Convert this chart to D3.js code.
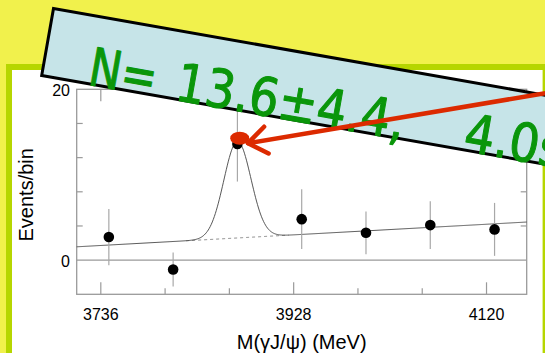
<!DOCTYPE html>
<html>
<head>
<meta charset="utf-8">
<script src="https://cdn.jsdelivr.net/npm/d3@7"></script>
<style>
  html, body { margin: 0; padding: 0; background: #f1f14c; }
  svg { display: block; }
</style>
</head>
<body>
<svg id="chart" width="545" height="353"></svg>
<script>
// Binned M(γJ/ψ) spectrum
const binCenters = [3744, 3808, 3872, 3936, 4000, 4064, 4128];
const events     = [2.7, -1.1, 13.6, 4.8, 3.2, 4.1, 3.6];
const errors     = [3.3, 2.0, 4.4, 3.5, 2.5, 2.8, 3.1];

// Axis ticks
const massRange   = [3712, 4160];
const xTicks      = [3736, 3800, 3864, 3928, 3992, 4056, 4120];
const xTickLabels = [3736, 3928, 4120];
const yRange      = [-4, 20];
const yTicks      = [4, 8, 12, 16];
const yTickLabels = [0, 20];

// Fit: linear background (values at the range ends) + Gaussian peak
const bgEnds    = [1.56, 4.46];
const peakMean  = 3872;
const peakSigma = 13.5;
const peakAmp   = 11.3;

// Annotation
const bannerText = ["N=", "13.6±4.4,", "4.0s"];

const svg = d3.select("#chart");
const W = 545, H = 353;

// page background + framed white panel
svg.append("rect").attr("width", W).attr("height", H).attr("fill", "#f1f14c");
svg.append("rect").attr("x", 9).attr("y", 67).attr("width", 536.6).attr("height", 320)
  .attr("fill", "#ffffff").attr("stroke", "#b6d600").attr("stroke-width", 6);

const plot = { left: 76.7, right: 526.7, top: 89.3, bottom: 294.3 };
const x = d3.scaleLinear().domain(massRange).range([plot.left, plot.right]);
const y = d3.scaleLinear().domain(yRange).range([plot.bottom, plot.top]);

const axisColor = "#9a9a9a";
const g = svg.append("g");

// frame
g.append("rect").attr("x", plot.left).attr("y", plot.top)
  .attr("width", plot.right - plot.left).attr("height", plot.bottom - plot.top)
  .attr("fill", "none").attr("stroke", axisColor).attr("stroke-width", 1.3);

// zero line
g.append("line").attr("x1", plot.left).attr("x2", plot.right)
  .attr("y1", y(0)).attr("y2", y(0)).attr("stroke", axisColor).attr("stroke-width", 1.2);

// x ticks (bottom and top, inward)
const isMajor = v => xTickLabels.includes(v);
xTicks.forEach(v => {
  const len = isMajor(v) ? 12 : 6;
  g.append("line").attr("x1", x(v)).attr("x2", x(v))
    .attr("y1", plot.bottom).attr("y2", plot.bottom - len)
    .attr("stroke", axisColor).attr("stroke-width", 1.2);
  g.append("line").attr("x1", x(v)).attr("x2", x(v))
    .attr("y1", plot.top).attr("y2", plot.top + len)
    .attr("stroke", axisColor).attr("stroke-width", 1.2);
});
// y ticks (left and right, inward)
yTicks.forEach(v => {
  g.append("line").attr("x1", plot.left).attr("x2", plot.left + 6)
    .attr("y1", y(v)).attr("y2", y(v)).attr("stroke", axisColor).attr("stroke-width", 1.2);
  g.append("line").attr("x1", plot.right).attr("x2", plot.right - 6)
    .attr("y1", y(v)).attr("y2", y(v)).attr("stroke", axisColor).attr("stroke-width", 1.2);
});

const labelFont = "'Liberation Sans', Arial, Helvetica, sans-serif";
xTickLabels.forEach(v => {
  g.append("text").attr("x", x(v)).attr("y", 320)
    .attr("text-anchor", "middle").attr("font-family", labelFont).attr("font-size", 16)
    .attr("fill", "#000").text(v);
});
yTickLabels.forEach(v => {
  g.append("text").attr("x", 70).attr("y", y(v) + 7)
    .attr("text-anchor", "end").attr("font-family", labelFont).attr("font-size", 16)
    .attr("fill", "#000").text(v);
});

// axis titles
g.append("text").attr("x", (plot.left + plot.right) / 2).attr("y", 349)
  .attr("text-anchor", "middle").attr("font-family", labelFont).attr("font-size", 20)
  .attr("fill", "#000").text("M(γJ/ψ) (MeV)");
g.append("text")
  .attr("transform", `translate(33,${(plot.top + plot.bottom) / 2 + 3}) rotate(-90)`)
  .attr("text-anchor", "middle").attr("font-family", labelFont).attr("font-size", 20)
  .attr("fill", "#000").text("Events/bin");

// fit curves
const bg = m => bgEnds[0] + (m - massRange[0]) * (bgEnds[1] - bgEnds[0]) / (massRange[1] - massRange[0]);
const gauss = m => peakAmp * Math.exp(-0.5 * Math.pow((m - peakMean) / peakSigma, 2));
const fitPts = d3.range(massRange[0], massRange[1] + 0.5, 1);
const line = d3.line().x(d => x(d)).curve(d3.curveLinear);

const dashPts = fitPts.filter(m => Math.abs(m - peakMean) <= 3.8 * peakSigma);
g.append("path").attr("d", line.y(d => y(bg(d)))(dashPts))
  .attr("fill", "none").attr("stroke", "#777").attr("stroke-width", 0.9)
  .attr("stroke-dasharray", "3,3");
g.append("path").attr("d", line.y(d => y(bg(d) + gauss(d)))(fitPts))
  .attr("fill", "none").attr("stroke", "#444").attr("stroke-width", 0.9);

// data points with error bars
const pts = binCenters.map((m, i) => ({ m, v: events[i], e: errors[i] }));
g.selectAll(".err").data(pts).enter().append("line")
  .attr("x1", d => x(d.m)).attr("x2", d => x(d.m))
  .attr("y1", d => y(d.v - d.e)).attr("y2", d => y(d.v + d.e))
  .attr("stroke", "#a8a8a8").attr("stroke-width", 1.2);
g.selectAll(".pt").data(pts).enter().append("circle")
  .attr("cx", d => x(d.m)).attr("cy", d => y(d.v)).attr("r", 5.3).attr("fill", "#000");

// rotated banner with the signal yield
const banner = svg.append("g").attr("transform", "translate(53.5,8.5) rotate(10)");
banner.append("rect").attr("x", 0).attr("y", 0).attr("width", 620).attr("height", 68)
  .attr("fill", "#c6e4e8").attr("stroke", "#000").attr("stroke-width", 3);
const bannerFont = "'DejaVu Sans', 'Noto Sans', sans-serif";
const chunkX = [46, 134, 427];
const chunkLen = [68, 232, 100];
bannerText.forEach((t, i) => {
  banner.append("text").attr("x", chunkX[i]).attr("y", 69)
    .attr("font-family", bannerFont).attr("font-size", 53).attr("fill", "#0a960a")
    .attr("stroke", "#0a960a").attr("stroke-width", 1.1).attr("stroke-linejoin", "round")
    .attr("textLength", chunkLen[i]).attr("lengthAdjust", "spacingAndGlyphs")
    .text(t);
});

// highlight of the peak bin and arrow pointing at it
const peak = pts[2];
const px = x(peak.m), py = y(peak.v);
svg.append("ellipse").attr("cx", px + 2.3).attr("cy", py - 5.8)
  .attr("rx", 9.5).attr("ry", 6.5).attr("fill", "#dc2a00");

const tip = [px + 10.6, py - 0.8];
const tail = [560, 90.7];
const red = "#dc2a00";
svg.append("line").attr("x1", tail[0]).attr("y1", tail[1]).attr("x2", tip[0] + 2).attr("y2", tip[1] - 0.3)
  .attr("stroke", red).attr("stroke-width", 4.5).attr("stroke-linecap", "round");
const ang = Math.atan2(tail[1] - tip[1], tail[0] - tip[0]);
const wing = 23, spread = 36 * Math.PI / 180;
[ang - spread, ang + spread].forEach(a => {
  svg.append("line").attr("x1", tip[0]).attr("y1", tip[1])
    .attr("x2", tip[0] + wing * Math.cos(a)).attr("y2", tip[1] + wing * Math.sin(a))
    .attr("stroke", red).attr("stroke-width", 4.5).attr("stroke-linecap", "round");
});
</script>
</body>
</html>
